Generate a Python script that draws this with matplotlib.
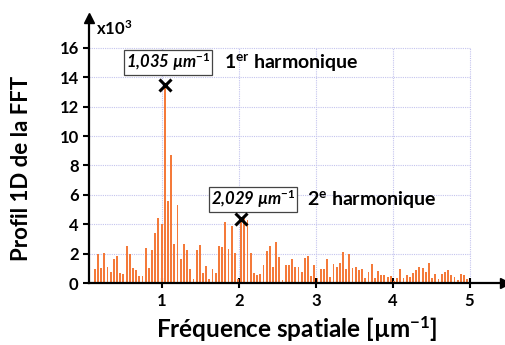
import numpy as np
import matplotlib
matplotlib.use('Agg')
import matplotlib.pyplot as plt

# FFT bins: bin index and spacing (um^-1)
bin_start = 3
bin_step = 0.0414
profile = [0.97, 2.0, 1.02, 2.04, 1.09, 0.79, 1.63, 1.86, 0.68, 0.63,
           2.54, 2.0, 1.02, 0.9, 0.5, 0.5, 2.42, 1.02, 2.26, 3.44,
           4.46, 4.03, 13.5, 5.6, 8.7, 2.67, 5.3, 1.68, 2.67, 2.26,
           1.0, 0.32, 2.26, 2.6, 0.68, 1.18, 0.27, 1.0, 0.72, 2.56,
           2.49, 4.19, 2.36, 3.9, 2.08, 0.27, 4.4, 4.5, 4.3, 2.08,
           0.68, 0.57, 0.63, 1.25, 2.22, 2.54, 1.13, 2.8, 1.77, 0.2,
           1.22, 1.25, 1.63, 1.13, 1.13, 0.79, 1.7, 1.86, 0.5, 1.25,
           0.34, 1.0, 1.0, 1.63, 0.4, 1.31, 1.13, 1.4, 2.13, 1.0,
           1.97, 1.02, 1.09, 0.9, 1.0, 0.38, 0.79, 1.31, 0.34, 0.86,
           0.57, 0.57, 0.45, 0.5, 0.18, 0.34, 1.0, 0.34, 0.57, 0.4,
           0.72, 0.9, 1.13, 1.02, 0.79, 1.36, 0.34, 0.63, 0.27, 0.63,
           0.79, 0.9, 0.57, 0.45, 0.23, 0.63, 0.57, 0.32]

peak_x = [1.035, 2.029]
peak_y = [13.45, 4.35]
peak_labels = ['1,035 µm$^{\\mathit{-1}}$', '2,029 µm$^{\\mathit{-1}}$']
harm_labels = ['1$^{\\mathrm{er}}$ harmonique', '2$^{\\mathrm{e}}$ harmonique']

x_ticks = [1, 2, 3, 4, 5]
y_ticks = [0, 2, 4, 6, 8, 10, 12, 14, 16]

plt.rcParams['font.family'] = ['Lato', 'DejaVu Sans']
plt.rcParams['font.weight'] = 'bold'
plt.rcParams['mathtext.fontset'] = 'custom'
plt.rcParams['mathtext.rm'] = 'Lato:bold'
plt.rcParams['mathtext.it'] = 'Lato:bold:italic'
plt.rcParams['mathtext.bf'] = 'Lato:bold'

freq = (bin_start + np.arange(len(profile))) * bin_step

fig = plt.figure(figsize=(5.06, 3.45), dpi=100)
ax = fig.add_axes([0.176, 0.179, 0.822, 0.768])

# dotted grid limited to the data box
for y in y_ticks[1:]:
    ax.plot([0.05, 5], [y, y], ls=(0, (1, 1)), color='#c4c4ee', lw=0.8, zorder=0)
for x in x_ticks:
    ax.plot([x, x], [0, 16], ls=(0, (1, 1)), color='#c4c4ee', lw=0.8, zorder=0)

ax.bar(freq, profile, width=0.024, color='#f47a3a', zorder=2)
ax.plot(peak_x, peak_y, 'x', color='black', ms=8, mew=2.2, zorder=4)

ax.text(1.08, 15.0, peak_labels[0], ha='center', va='center', fontsize=12,
        style='italic', fontweight='bold',
        bbox=dict(boxstyle='square,pad=0.12', fc='white', ec='#444444', lw=0.9))
ax.text(1.80, 15.0, harm_labels[0], ha='left', va='center', fontsize=14, fontweight='bold')
ax.text(2.18, 5.68, peak_labels[1], ha='center', va='center', fontsize=12,
        style='italic', fontweight='bold',
        bbox=dict(boxstyle='square,pad=0.12', fc='white', ec='#444444', lw=0.9))
ax.text(2.885, 5.68, harm_labels[1], ha='left', va='center', fontsize=14, fontweight='bold')

ax.set_xlim(0.05, 5.46)
ax.set_ylim(0, 18)
ax.set_xticks(x_ticks)
ax.set_yticks(y_ticks)
ax.tick_params(axis='y', direction='out', length=4, width=1.5, labelsize=12)
ax.tick_params(axis='x', direction='inout', length=7, width=1.5, labelsize=12)
for sp in ['top', 'right']:
    ax.spines[sp].set_visible(False)
for sp in ['left', 'bottom']:
    ax.spines[sp].set_linewidth(1.6)

# axis arrows
ax.plot(1, 0, '>', color='black', ms=7, transform=ax.get_yaxis_transform(), clip_on=False)
ax.plot(0.05, 1, '^', color='black', ms=7, transform=ax.get_xaxis_transform(), clip_on=False)

ax.text(0.14, 17.3, 'x10$^3$', ha='left', va='center', fontsize=12, fontweight='bold')

ax.set_xlabel('Fréquence spatiale [µm$^{-1}$]', fontsize=17.5, fontweight='bold', labelpad=4)
ax.set_ylabel('Profil 1D de la FFT', fontsize=16, fontweight='bold')
ax.yaxis.set_label_coords(-0.137, 0.435)

fig.savefig('out.png', dpi=100)
